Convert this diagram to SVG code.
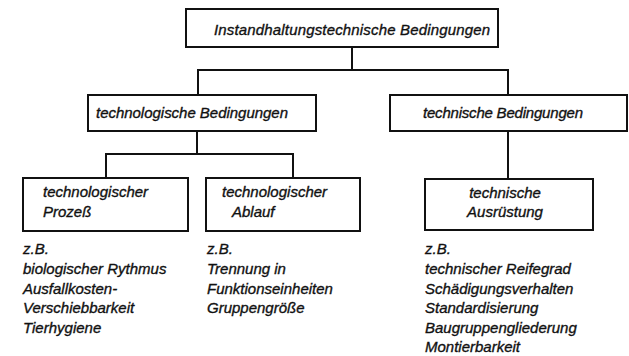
<svg xmlns="http://www.w3.org/2000/svg" width="629" height="356" viewBox="0 0 629 356">
<style>
.b{fill:#fff;stroke:#111;stroke-width:2}
.c line{stroke:#111;stroke-width:2}
text{font-family:"Liberation Sans",Arial,sans-serif;font-style:italic;font-size:15px;fill:#111;stroke:#111;stroke-width:0.35}
.m{text-anchor:middle}
</style>
<rect width="629" height="356" fill="#fff"/>
<g class="c" id="connectors">
<line x1="352" y1="47" x2="352" y2="70"/>
<line x1="197" y1="70" x2="509" y2="70"/>
<line x1="198" y1="70" x2="198" y2="95"/>
<line x1="508" y1="70" x2="508" y2="95"/>
<line x1="197" y1="131" x2="197" y2="154"/>
<line x1="105" y1="154" x2="294" y2="154"/>
<line x1="106" y1="154" x2="106" y2="178"/>
<line x1="293" y1="154" x2="293" y2="178"/>
<line x1="508" y1="131" x2="508" y2="179"/>
</g>
<g id="n-top">
<rect class="b" x="186" y="9" width="312" height="38"/>
<text x="214" y="35" textLength="276">Instandhaltungstechnische Bedingungen</text>
</g>
<g id="n-technologisch">
<rect class="b" x="88" y="95" width="228" height="36"/>
<text x="96" y="118" textLength="192">technologische Bedingungen</text>
</g>
<g id="n-technisch">
<rect class="b" x="390" y="95" width="237" height="36"/>
<text x="423" y="118" textLength="160">technische Bedingungen</text>
</g>
<g id="n-prozess">
<rect class="b" x="23" y="178" width="165" height="53"/>
<text x="43" y="197">technologischer</text>
<text x="43" y="217">Prozeß</text>
</g>
<g id="n-ablauf">
<rect class="b" x="206" y="178" width="154" height="53"/>
<text x="222" y="197">technologischer</text>
<text x="232" y="217">Ablauf</text>
</g>
<g id="n-ausruestung">
<rect class="b" x="425" y="179" width="168" height="51"/>
<text class="m" x="505" y="198">technische</text>
<text class="m" x="505" y="217">Ausrüstung</text>
</g>
<g id="list-1">
<text x="23" y="254">z.B.</text>
<text x="23" y="274">biologischer Rythmus</text>
<text x="23" y="294">Ausfallkosten-</text>
<text x="23" y="313">Verschiebbarkeit</text>
<text x="23" y="333">Tierhygiene</text>
</g>
<g id="list-2">
<text x="207" y="254">z.B.</text>
<text x="207" y="274">Trennung in</text>
<text x="207" y="294">Funktionseinheiten</text>
<text x="207" y="313">Gruppengröße</text>
</g>
<g id="list-3">
<text x="425" y="254">z.B.</text>
<text x="425" y="274">technischer Reifegrad</text>
<text x="425" y="294">Schädigungsverhalten</text>
<text x="425" y="313">Standardisierung</text>
<text x="425" y="333">Baugruppengliederung</text>
<text x="425" y="352">Montierbarkeit</text>
</g>
</svg>
